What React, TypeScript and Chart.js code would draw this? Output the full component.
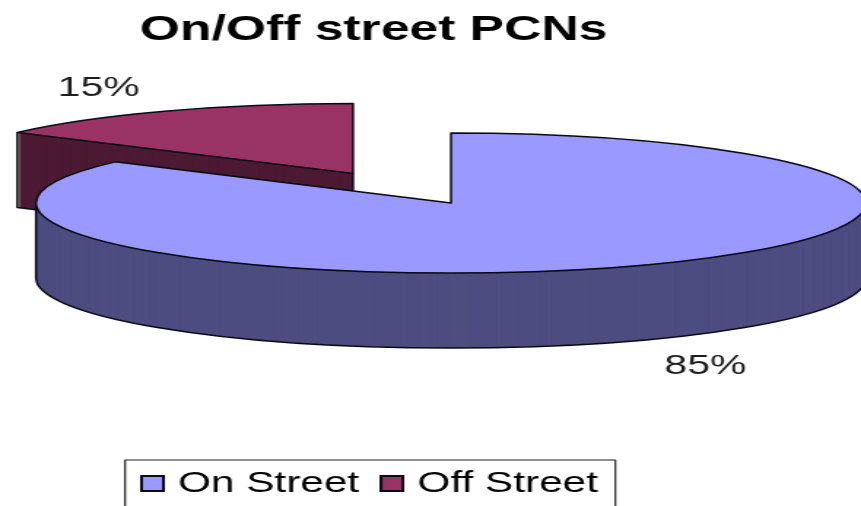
import React, { useEffect, useRef } from "react";
import { Chart, registerables } from "chart.js";

Chart.register(...registerables);

const titleText = "On/Off street PCNs";
const categories = ["On Street", "Off Street"];
const shares = [85, 15];
const explode = [0, 208];
const topColors = ["#9999ff", "#993366"];
const sideColors = ["#4d4d80", "#4d1a33"];

const FONT = "'Liberation Sans', Arial, sans-serif";
const W = 590;
const H = 506;
const STRETCH = 861 / W;
const R = 100;
const CX = 451 / STRETCH;
const CY = 203;
const RX = 415 / STRETCH;
const RY = 70;
const DEPTH = 75;
const EXPLODE_DROP = 3;
const INK = "#0a0a14";

function marker(color: string) {
  const c = document.createElement("canvas");
  c.width = 17;
  c.height = 17;
  const g = c.getContext("2d")!;
  g.fillStyle = "#0a0a14";
  g.fillRect(0, 0, 17, 17);
  g.fillStyle = color;
  g.fillRect(2, 2, 13, 13);
  return c;
}

function project(arc: any, ctx: CanvasRenderingContext2D, dy: number) {
  ctx.translate(CX, CY + dy);
  ctx.scale(RX / R, RY / R);
  ctx.translate(-arc.x, -arc.y);
}

function centerOf(arc: any) {
  const half = (arc.startAngle + arc.endAngle) / 2;
  const off = (arc.options.offset || 0) / 4;
  const drop = off > 0 ? EXPLODE_DROP / (RY / R) : 0;
  return { x: arc.x + Math.cos(half) * off, y: arc.y + Math.sin(half) * off + drop };
}

function paintArc(arc: any, ctx: CanvasRenderingContext2D, color: string, dy: number) {
  const face = Object.create(arc);
  face.options = {
    backgroundColor: color,
    borderColor: color,
    borderWidth: 0,
    borderAlign: "center",
    borderJoinStyle: "round",
    borderRadius: 0,
    circular: true,
    spacing: 0,
    offset: 0,
  };
  const c = centerOf(arc);
  ctx.save();
  project(arc, ctx, dy);
  ctx.translate(c.x - arc.x, c.y - arc.y);
  face.draw(ctx);
  ctx.restore();
}

function traceSlice(arc: any, ctx: CanvasRenderingContext2D) {
  const c = centerOf(arc);
  ctx.save();
  project(arc, ctx, 0);
  ctx.beginPath();
  ctx.moveTo(c.x, c.y);
  ctx.arc(c.x, c.y, arc.outerRadius, arc.startAngle, arc.endAngle);
  ctx.closePath();
  ctx.restore();
}

function pointAt(arc: any, angle: number, k = 1) {
  const c = centerOf(arc);
  return {
    x: CX + ((c.x - arc.x) + Math.cos(angle) * arc.outerRadius * k) * (RX / R),
    y: CY + ((c.y - arc.y) + Math.sin(angle) * arc.outerRadius * k) * (RY / R),
  };
}

const pie3d = {
  id: "pie3d",
  afterLayout(chart: any) {
    const lg = chart.legend;
    lg.left = 82;
    lg.right = 82 + 500;
    lg.top = 449.5;
    lg.bottom = H;
  },
  beforeDatasetDraw(chart: any, args: any) {
    const ctx: CanvasRenderingContext2D = chart.ctx;
    const arcs = args.meta.data;
    const main = arcs[0];
    const off = arcs[1];
    ctx.lineWidth = 1.5;
    ctx.strokeStyle = INK;
    ctx.lineJoin = "round";

    // exploded slice: wall first, then its top face
    for (let d = DEPTH; d > 0; d--) paintArc(off, ctx, sideColors[1], d);
    const a = pointAt(off, off.startAngle);
    const c = pointAt(off, 0, 0);
    ctx.beginPath();
    ctx.moveTo(a.x, a.y);
    ctx.lineTo(a.x, a.y + DEPTH);
    ctx.lineTo(c.x, c.y + DEPTH);
    ctx.lineTo(c.x, c.y);
    ctx.stroke();
    paintArc(off, ctx, topColors[1], 0);
    traceSlice(off, ctx);
    ctx.stroke();

    // main slice: wall, wall outline, top face
    for (let d = DEPTH; d > 0; d--) paintArc(main, ctx, sideColors[0], d);
    ctx.save();
    project(main, ctx, DEPTH);
    ctx.beginPath();
    ctx.arc(main.x, main.y, main.outerRadius, 0, Math.PI);
    ctx.restore();
    ctx.stroke();
    for (const ang of [0, Math.PI]) {
      const p = pointAt(main, ang);
      ctx.beginPath();
      ctx.moveTo(p.x, p.y);
      ctx.lineTo(p.x, p.y + DEPTH);
      ctx.stroke();
    }
    paintArc(main, ctx, topColors[0], 0);
    traceSlice(main, ctx);
    ctx.stroke();

    // value labels
    ctx.fillStyle = "#1c1c1c";
    ctx.font = `28px ${FONT}`;
    ctx.textAlign = "center";
    ctx.textBaseline = "middle";
    arcs.forEach((arc: any, i: number) => {
      const mid = (arc.startAngle + arc.endAngle) / 2;
      const p = pointAt(arc, mid, 1.35);
      const dy = Math.sin(mid) > 0 ? DEPTH + 4 : -1;
      ctx.fillText(`${shares[i]}%`, p.x, p.y + dy);
    });
    return false;
  },
  afterDraw(chart: any) {
    const ctx: CanvasRenderingContext2D = chart.ctx;
    const lg = chart.legend;
    ctx.save();
    ctx.strokeStyle = "#222";
    ctx.lineWidth = 1.2;
    ctx.strokeRect(lg.left + 3.7, lg.top + 10.5, 336, 80);
    ctx.restore();
  },
};

export default function App() {
  const ref = useRef<HTMLCanvasElement>(null);
  useEffect(() => {
    document.body.style.margin = "0";
    document.body.style.background = "#fff";
    document.documentElement.style.overflow = "hidden";
    const chart = new Chart(ref.current!, {
      type: "pie",
      data: {
        labels: categories,
        datasets: [
          {
            data: shares,
            backgroundColor: topColors,
            borderWidth: 0,
            offset: explode,
          },
        ],
      },
      plugins: [pie3d],
      options: {
        responsive: false,
        maintainAspectRatio: false,
        animation: false,
        radius: R,
        layout: { padding: { right: 78 } },
        plugins: {
          title: {
            display: true,
            text: titleText,
            color: "#000",
            font: { family: FONT, size: 35.4, weight: "bold", lineHeight: 1.2 },
            padding: { top: 9, bottom: 4 },
          },
          legend: {
            display: true,
            position: "bottom",
            align: "start",
            labels: {
              font: { family: FONT, size: 29 },
              color: "#111",
              padding: 19.5,
              usePointStyle: true,
              pointStyleWidth: 6,
              generateLabels: () =>
                categories.map((text, i) => ({
                  text,
                  pointStyle: marker(topColors[i]),
                  datasetIndex: 0,
                  index: i,
                  hidden: false,
                  lineWidth: 0,
                })),
            },
          },
          tooltip: { enabled: false },
        },
      },
    } as any);
    return () => chart.destroy();
  }, []);
  return (
    <canvas
      ref={ref}
      width={W}
      height={H}
      style={{
        position: "absolute",
        left: 0,
        top: 0,
        transform: `scaleX(${STRETCH})`,
        transformOrigin: "0 0",
        filter: "blur(0.4px)",
      }}
    />
  );
}
